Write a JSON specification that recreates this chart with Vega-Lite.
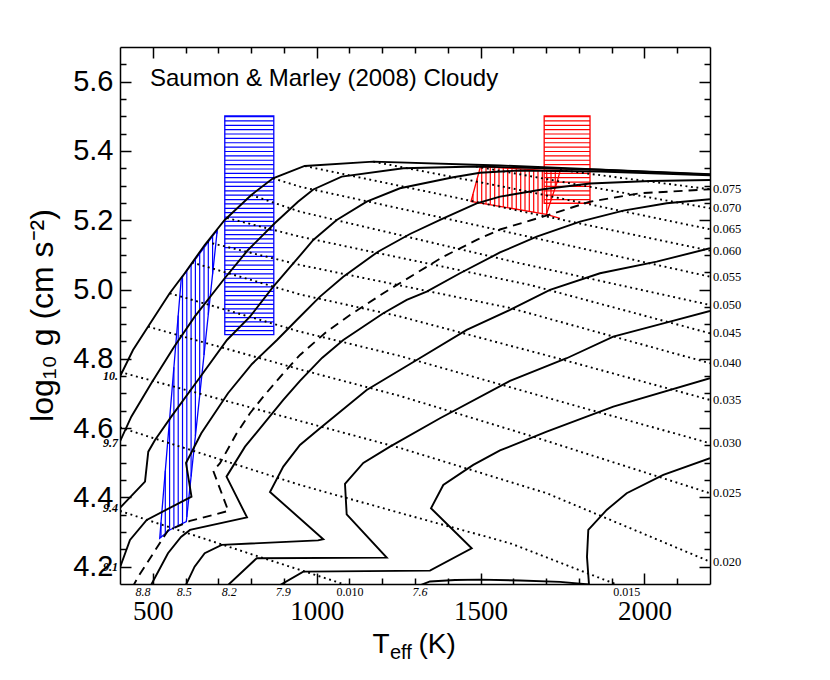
{
  "$schema": "https://vega.github.io/schema/vega-lite/v6.json",
  "width": 590,
  "height": 537,
  "autosize": {"type": "none"},
  "padding": {"left": 120, "top": 47, "right": 120, "bottom": 96},
  "background": "white",
  "config": {
    "view": {"stroke": null},
    "axis": {"grid": false, "domainColor": "black", "tickColor": "black", "labelColor": "black", "titleColor": "black", "domainWidth": 1.5, "tickWidth": 1.5, "labelFlush": false, "labelOverlap": false, "titleFontWeight": "normal"}
  },
  "resolve": {"axis": {"x": "independent", "y": "independent"}},
  "encoding": {
    "x": {"field": "T", "type": "quantitative", "scale": {"domain": [400, 2200], "nice": false, "zero": false}, "axis": null},
    "y": {"field": "g", "type": "quantitative", "scale": {"domain": [4.15, 5.7], "nice": false, "zero": false}, "axis": null}
  },
  "datasets": {
    "iso": [
      {"age":"10.","i":0,"T":400,"g":4.749},{"age":"10.","i":1,"T":439.7,"g":4.8255},{"age":"10.","i":2,"T":485.4,"g":4.8928},{"age":"10.","i":3,"T":551.6,"g":4.9892},{"age":"10.","i":4,"T":597.4,"g":5.0469},{"age":"10.","i":5,"T":658.4,"g":5.1286},{"age":"10.","i":6,"T":719.4,"g":5.2007},{"age":"10.","i":7,"T":800.6,"g":5.2729},{"age":"10.","i":8,"T":866.8,"g":5.3211},{"age":"10.","i":9,"T":963.5,"g":5.3566},{"age":"10.","i":10,"T":1172.8,"g":5.369},{"age":"10.","i":11,"T":1559.3,"g":5.358},{"age":"10.","i":12,"T":2200,"g":5.3326},
      {"age":"9.7","i":0,"T":400,"g":4.5615},{"age":"9.7","i":1,"T":434.5,"g":4.633},{"age":"9.7","i":2,"T":495.5,"g":4.7294},{"age":"9.7","i":3,"T":564.7,"g":4.8342},{"age":"9.7","i":4,"T":627.9,"g":4.9217},{"age":"9.7","i":5,"T":719.4,"g":5.0325},{"age":"9.7","i":6,"T":790.5,"g":5.1141},{"age":"9.7","i":7,"T":872,"g":5.1912},{"age":"9.7","i":8,"T":943,"g":5.2535},{"age":"9.7","i":9,"T":989.7,"g":5.2887},{"age":"9.7","i":10,"T":1076.4,"g":5.3257},{"age":"9.7","i":11,"T":1264.3,"g":5.3499},{"age":"9.7","i":12,"T":1488.2,"g":5.3551},{"age":"9.7","i":13,"T":1864.4,"g":5.3456},{"age":"9.7","i":14,"T":2200,"g":5.3317},
      {"age":"9.4","i":0,"T":400,"g":4.3696},{"age":"9.4","i":1,"T":476.3,"g":4.4455},{"age":"9.4","i":2,"T":486.3,"g":4.532},{"age":"9.4","i":3,"T":506.8,"g":4.5658},{"age":"9.4","i":4,"T":556.5,"g":4.633},{"age":"9.4","i":5,"T":638,"g":4.739},{"age":"9.4","i":6,"T":726.4,"g":4.8544},{"age":"9.4","i":7,"T":796.6,"g":4.9217},{"age":"9.4","i":8,"T":867.7,"g":5.0082},{"age":"9.4","i":9,"T":943,"g":5.0911},{"age":"9.4","i":10,"T":989.7,"g":5.143},{"age":"9.4","i":11,"T":1061.1,"g":5.2007},{"age":"9.4","i":12,"T":1152.6,"g":5.2535},{"age":"9.4","i":13,"T":1254.2,"g":5.2922},{"age":"9.4","i":14,"T":1416.8,"g":5.324},{"age":"9.4","i":15,"T":1498.3,"g":5.3369},{"age":"9.4","i":16,"T":1620.3,"g":5.3436},{"age":"9.4","i":17,"T":1864.4,"g":5.3407},{"age":"9.4","i":18,"T":2200,"g":5.3297},
      {"age":"9.1","i":0,"T":400,"g":4.1978},{"age":"9.1","i":1,"T":430.5,"g":4.2772},{"age":"9.1","i":2,"T":481.5,"g":4.3349},{"age":"9.1","i":3,"T":618.1,"g":4.4022},{"age":"9.1","i":4,"T":601.4,"g":4.4994},{"age":"9.1","i":5,"T":648,"g":4.5851},{"age":"9.1","i":6,"T":729.5,"g":4.7006},{"age":"9.1","i":7,"T":802.7,"g":4.7851},{"age":"9.1","i":8,"T":879,"g":4.8544},{"age":"9.1","i":9,"T":939.1,"g":4.9121},{"age":"9.1","i":10,"T":1010.2,"g":4.9794},{"age":"9.1","i":11,"T":1081.2,"g":5.0371},{"age":"9.1","i":12,"T":1187.1,"g":5.1092},{"age":"9.1","i":13,"T":1284.7,"g":5.1603},{"age":"9.1","i":14,"T":1386.3,"g":5.2056},{"age":"9.1","i":15,"T":1488.2,"g":5.2489},{"age":"9.1","i":16,"T":1559.3,"g":5.268},{"age":"9.1","i":17,"T":1696.6,"g":5.2902},{"age":"9.1","i":18,"T":1833.9,"g":5.3061},{"age":"9.1","i":19,"T":2016.9,"g":5.3133},{"age":"9.1","i":20,"T":2200,"g":5.3162},
      {"age":"8.8","i":0,"T":490,"g":4.1387},{"age":"8.8","i":1,"T":546.4,"g":4.2388},{"age":"8.8","i":2,"T":586.1,"g":4.2859},{"age":"8.8","i":3,"T":613.6,"g":4.3061},{"age":"8.8","i":4,"T":787.5,"g":4.3422},{"age":"8.8","i":5,"T":724.9,"g":4.4599},{"age":"8.8","i":6,"T":781.4,"g":4.5465},{"age":"8.8","i":7,"T":898.2,"g":4.6813},{"age":"8.8","i":8,"T":949.1,"g":4.7361},{"age":"8.8","i":9,"T":1016.3,"g":4.8025},{"age":"8.8","i":10,"T":1081.2,"g":4.8544},{"age":"8.8","i":11,"T":1203.3,"g":4.9315},{"age":"8.8","i":12,"T":1274.7,"g":4.9698},{"age":"8.8","i":13,"T":1335.7,"g":4.9938},{"age":"8.8","i":14,"T":1437.3,"g":5.0469},{"age":"8.8","i":15,"T":1559.3,"g":5.1069},{"age":"8.8","i":16,"T":1671.3,"g":5.1525},{"age":"8.8","i":17,"T":1803.4,"g":5.1958},{"age":"8.8","i":18,"T":1935.5,"g":5.2276},{"age":"8.8","i":19,"T":2067.9,"g":5.2489},{"age":"8.8","i":20,"T":2200,"g":5.2605},
      {"age":"8.5","i":0,"T":596.8,"g":4.1387},{"age":"8.5","i":1,"T":627.6,"g":4.2001},{"age":"8.5","i":2,"T":658.4,"g":4.2388},{"age":"8.5","i":3,"T":710.3,"g":4.2628},{"age":"8.5","i":4,"T":1004.1,"g":4.2758},{"age":"8.5","i":5,"T":1020.2,"g":4.2792},{"age":"8.5","i":6,"T":857.6,"g":4.4157},{"age":"8.5","i":7,"T":898.2,"g":4.4888},{"age":"8.5","i":8,"T":949.1,"g":4.5514},{"age":"8.5","i":9,"T":1010.2,"g":4.5996},{"age":"8.5","i":10,"T":1152.6,"g":4.7101},{"age":"8.5","i":11,"T":1305.2,"g":4.7967},{"age":"8.5","i":12,"T":1457.7,"g":4.8833},{"age":"8.5","i":13,"T":1589.8,"g":4.941},{"age":"8.5","i":14,"T":1711.8,"g":4.9987},{"age":"8.5","i":15,"T":1864.4,"g":5.0469},{"age":"8.5","i":16,"T":2037.3,"g":5.0804},{"age":"8.5","i":17,"T":2200,"g":5.1191},
      {"age":"8.2","i":0,"T":720.3,"g":4.1387},{"age":"8.2","i":1,"T":817,"g":4.2244},{"age":"8.2","i":2,"T":1213.7,"g":4.2261},{"age":"8.2","i":3,"T":1091.6,"g":4.3508},{"age":"8.2","i":4,"T":1086.4,"g":4.4388},{"age":"8.2","i":5,"T":1142.3,"g":4.4994},{"age":"8.2","i":6,"T":1223.7,"g":4.5465},{"age":"8.2","i":7,"T":1376.3,"g":4.6284},{"age":"8.2","i":8,"T":1589.8,"g":4.7361},{"age":"8.2","i":9,"T":1762.8,"g":4.8016},{"age":"8.2","i":10,"T":1904.9,"g":4.8639},{"age":"8.2","i":11,"T":2077.9,"g":4.9072},{"age":"8.2","i":12,"T":2200,"g":4.9381},
      {"age":"7.9","i":0,"T":873.5,"g":4.1387},{"age":"7.9","i":1,"T":959.2,"g":4.1857},{"age":"7.9","i":2,"T":1345.7,"g":4.1886},{"age":"7.9","i":3,"T":1473,"g":4.2533},{"age":"7.9","i":4,"T":1348.8,"g":4.3687},{"age":"7.9","i":5,"T":1386.3,"g":4.4359},{"age":"7.9","i":6,"T":1477.8,"g":4.4937},{"age":"7.9","i":7,"T":1559.3,"g":4.5355},{"age":"7.9","i":8,"T":1701.8,"g":4.5898},{"age":"7.9","i":9,"T":1905,"g":4.6619},{"age":"7.9","i":10,"T":2200,"g":4.7439},
      {"age":"7.6","i":0,"T":1303,"g":4.1416},{"age":"7.6","i":1,"T":1345.7,"g":4.1574},{"age":"7.6","i":2,"T":1422,"g":4.1617},{"age":"7.6","i":3,"T":1498.3,"g":4.1626},{"age":"7.6","i":4,"T":1620.3,"g":4.1603},{"age":"7.6","i":5,"T":1742.4,"g":4.156},{"age":"7.6","i":6,"T":1830.8,"g":4.1488},{"age":"7.6","i":7,"T":1824.7,"g":4.2281},{"age":"7.6","i":8,"T":1828.7,"g":4.3061},{"age":"7.6","i":9,"T":1884.8,"g":4.3638},{"age":"7.6","i":10,"T":1945.8,"g":4.412},{"age":"7.6","i":11,"T":2057.5,"g":4.4648},{"age":"7.6","i":12,"T":2200,"g":4.513}
    ],
    "dashed": [
      {"i":0,"T":436.9,"g":4.1387},{"i":1,"T":455.8,"g":4.1713},{"i":2,"T":501.6,"g":4.2388},{"i":3,"T":546.4,"g":4.3046},{"i":4,"T":613.6,"g":4.332},{"i":5,"T":730.4,"g":4.3609},{"i":6,"T":684.6,"g":4.4763},{"i":7,"T":705.1,"g":4.4986},{"i":8,"T":756,"g":4.5851},{"i":9,"T":796.6,"g":4.6429},{"i":10,"T":837.2,"g":4.6908},{"i":11,"T":898.2,"g":4.7583},{"i":12,"T":949.1,"g":4.8111},{"i":13,"T":1030.6,"g":4.8784},{"i":14,"T":1101.7,"g":4.9266},{"i":15,"T":1203.3,"g":4.9892},{"i":16,"T":1294.8,"g":5.042},{"i":17,"T":1386.3,"g":5.0948},{"i":18,"T":1488.2,"g":5.143},{"i":19,"T":1559.3,"g":5.1733},{"i":20,"T":1690.5,"g":5.2102},{"i":21,"T":1833.9,"g":5.2535},{"i":22,"T":1986.4,"g":5.2778},{"i":23,"T":2200,"g":5.2893}
    ],
    "mass": [
      {"m":"0.010","i":0,"T":400,"g":4.3609},{"m":"0.010","i":1,"T":817,"g":4.231},{"m":"0.010","i":2,"T":949.1,"g":4.1906},{"m":"0.010","i":3,"T":1107.8,"g":4.1416},
      {"m":"0.015","i":0,"T":400,"g":4.6019},{"m":"0.015","i":1,"T":949.1,"g":4.4359},{"m":"0.015","i":2,"T":1254.2,"g":4.3551},{"m":"0.015","i":3,"T":1589.8,"g":4.2677},{"m":"0.015","i":4,"T":1934,"g":4.1416},
      {"m":"0.020","i":0,"T":400,"g":4.762},{"m":"0.020","i":1,"T":949.1,"g":4.6206},{"m":"0.020","i":2,"T":1254.2,"g":4.5427},{"m":"0.020","i":3,"T":1701.8,"g":4.412},{"m":"0.020","i":4,"T":2200,"g":4.2146},
      {"m":"0.025","i":0,"T":485.4,"g":4.8928},{"m":"0.025","i":1,"T":949.1,"g":4.7693},{"m":"0.025","i":2,"T":1254.2,"g":4.6928},{"m":"0.025","i":3,"T":1660.9,"g":4.5753},{"m":"0.025","i":4,"T":2200,"g":4.412},
      {"m":"0.030","i":0,"T":551.6,"g":4.9892},{"m":"0.030","i":1,"T":949.1,"g":4.8784},{"m":"0.030","i":2,"T":1254.2,"g":4.8082},{"m":"0.030","i":3,"T":1762.8,"g":4.6717},{"m":"0.030","i":4,"T":2200,"g":4.5563},
      {"m":"0.035","i":0,"T":619.7,"g":5.0781},{"m":"0.035","i":1,"T":949.1,"g":4.9857},{"m":"0.035","i":2,"T":1254.2,"g":4.9222},{"m":"0.035","i":3,"T":1742.4,"g":4.7996},{"m":"0.035","i":4,"T":2200,"g":4.6812},
      {"m":"0.040","i":0,"T":665.4,"g":5.1372},{"m":"0.040","i":1,"T":949.1,"g":5.0709},{"m":"0.040","i":2,"T":1589.8,"g":4.9468},{"m":"0.040","i":3,"T":2200,"g":4.7872},
      {"m":"0.045","i":0,"T":726.4,"g":5.2065},{"m":"0.045","i":1,"T":949.1,"g":5.1525},{"m":"0.045","i":2,"T":1650.8,"g":5.0131},{"m":"0.045","i":3,"T":2200,"g":4.8737},
      {"m":"0.050","i":0,"T":799.7,"g":5.2729},{"m":"0.050","i":1,"T":949.1,"g":5.2247},{"m":"0.050","i":2,"T":1620.3,"g":5.0758},{"m":"0.050","i":3,"T":2200,"g":4.9554},
      {"m":"0.055","i":0,"T":866.8,"g":5.3211},{"m":"0.055","i":1,"T":949.1,"g":5.2968},{"m":"0.055","i":2,"T":1599.9,"g":5.1623},{"m":"0.055","i":3,"T":2200,"g":5.0371},
      {"m":"0.060","i":0,"T":963.5,"g":5.3566},{"m":"0.060","i":1,"T":1473,"g":5.2556},{"m":"0.060","i":2,"T":2200,"g":5.1121},
      {"m":"0.065","i":0,"T":1172.8,"g":5.369},{"m":"0.065","i":1,"T":1620.3,"g":5.2873},{"m":"0.065","i":2,"T":2200,"g":5.1739},
      {"m":"0.070","i":0,"T":1486.1,"g":5.3551},{"m":"0.070","i":1,"T":2200,"g":5.2345},
      {"m":"0.075","i":0,"T":1742.4,"g":5.345},{"m":"0.075","i":1,"T":2200,"g":5.2893}
    ],
    "hatch": [
      {"set":"A","T":525.1,"g":4.3274,"g2":4.2853},{"set":"A","T":538.2,"g":4.4766,"g2":4.2954},{"set":"A","T":551.3,"g":4.6261,"g2":4.3058},{"set":"A","T":564.4,"g":4.7756,"g2":4.3121},{"set":"A","T":577.6,"g":4.9248,"g2":4.3183},{"set":"A","T":590.7,"g":5.0371,"g2":4.3245},{"set":"A","T":603.8,"g":5.0538,"g2":4.3436},{"set":"A","T":616.9,"g":5.0706,"g2":4.4605},{"set":"A","T":630,"g":5.0873,"g2":4.5771},{"set":"A","T":643.1,"g":5.1038,"g2":4.6939},{"set":"A","T":656.3,"g":5.1205,"g2":4.8108},{"set":"A","T":669.4,"g":5.1372,"g2":4.9274},{"set":"A","T":682.5,"g":5.1537,"g2":5.0443},{"set":"A","T":695.6,"g":5.1704,"g2":5.1612},
      {"set":"B","T":1476.9,"g":5.2755,"g2":5.2532},{"set":"B","T":1490,"g":5.3211,"g2":5.2509},{"set":"B","T":1503.5,"g":5.3548,"g2":5.2489},{"set":"B","T":1516.6,"g":5.3543,"g2":5.2469},{"set":"B","T":1529.7,"g":5.3534,"g2":5.2446},{"set":"B","T":1543.1,"g":5.3525,"g2":5.2426},{"set":"B","T":1556.3,"g":5.3517,"g2":5.2405},{"set":"B","T":1569.4,"g":5.3508,"g2":5.2382},{"set":"B","T":1582.8,"g":5.3502,"g2":5.2362},{"set":"B","T":1595.9,"g":5.3494,"g2":5.2342},{"set":"B","T":1609,"g":5.3485,"g2":5.2319},{"set":"B","T":1622.5,"g":5.3479,"g2":5.2299},{"set":"B","T":1635.6,"g":5.347,"g2":5.2277},{"set":"B","T":1648.7,"g":5.3462,"g2":5.2256},{"set":"B","T":1662.1,"g":5.3456,"g2":5.2236},{"set":"B","T":1675.2,"g":5.3447,"g2":5.2219},{"set":"B","T":1688.4,"g":5.3439,"g2":5.2198},{"set":"B","T":1701.8,"g":5.343,"g2":5.2195},{"set":"B","T":1714.9,"g":5.3422,"g2":5.2576},{"set":"B","T":1728,"g":5.3413,"g2":5.2945}
    ],
    "outline": [
      {"set":"A","i":0,"T":587,"g":5.0325},{"set":"A","i":1,"T":696.8,"g":5.172},{"set":"A","i":2,"T":602.3,"g":4.33},{"set":"A","i":3,"T":551.6,"g":4.306},{"set":"A","i":4,"T":521.1,"g":4.282},{"set":"A","i":5,"T":587,"g":5.0325},
      {"set":"B","i":0,"T":1742.4,"g":5.2056},{"set":"B","i":1,"T":1701.2,"g":5.2172},{"set":"B","i":2,"T":1470.8,"g":5.2541},{"set":"B","i":3,"T":1499.8,"g":5.355},{"set":"B","i":4,"T":1742.4,"g":5.341},{"set":"B","i":5,"T":1732.3,"g":5.3066},{"set":"B","i":6,"T":1711.8,"g":5.2489},{"set":"B","i":7,"T":1701.2,"g":5.2172}
    ]
  },
  "layer": [
    {
      "data": {"values": [{"T": 794.45, "g": 5.501, "g2": 4.870}]},
      "mark": {"type": "rule", "color": "#0000ff", "strokeWidth": 49, "strokeDash": [1.2, 3.17], "strokeCap": "butt"},
      "encoding": {"y2": {"field": "g2"}}
    },
    {
      "data": {"values": [{"T": 1764, "g": 5.501, "g2": 5.249}]},
      "mark": {"type": "rule", "color": "#ff0000", "strokeWidth": 45.8, "strokeDash": [1.2, 3.17], "strokeCap": "butt"},
      "encoding": {"y2": {"field": "g2"}}
    },
    {
      "data": {"name": "hatch"},
      "mark": {"type": "rule", "strokeWidth": 1.2},
      "encoding": {
        "y2": {"field": "g2"},
        "color": {"field": "set", "type": "nominal", "scale": {"domain": ["A", "B"], "range": ["#0000ff", "#ff0000"]}, "legend": null}
      }
    },
    {
      "data": {"name": "outline"},
      "mark": {"type": "line", "strokeWidth": 1.3},
      "encoding": {
        "color": {"field": "set", "type": "nominal", "scale": {"domain": ["A", "B"], "range": ["#0000ff", "#ff0000"]}, "legend": null},
        "order": {"field": "i", "type": "quantitative"}
      }
    },
    {
      "data": {"values": [{"set": "A", "T": 719.7, "T2": 869.2, "g": 5.501, "g2": 4.870}, {"set": "B", "T": 1694.1, "T2": 1833.9, "g": 5.501, "g2": 5.249}]},
      "mark": {"type": "rect", "filled": false, "strokeWidth": 1.3},
      "encoding": {
        "x2": {"field": "T2"},
        "y2": {"field": "g2"},
        "color": {"field": "set", "type": "nominal", "scale": {"domain": ["A", "B"], "range": ["#0000ff", "#ff0000"]}, "legend": null}
      }
    },
    {
      "data": {"name": "mass"},
      "mark": {"type": "line", "color": "black", "strokeWidth": 1.9, "strokeDash": [1.9, 3.6], "clip": true},
      "encoding": {"detail": {"field": "m", "type": "nominal"}, "order": {"field": "i", "type": "quantitative"}}
    },
    {
      "data": {"name": "iso"},
      "mark": {"type": "line", "color": "black", "strokeWidth": 1.9, "clip": true},
      "encoding": {"detail": {"field": "age", "type": "nominal"}, "order": {"field": "i", "type": "quantitative"}}
    },
    {
      "data": {"name": "dashed"},
      "mark": {"type": "line", "color": "black", "strokeWidth": 1.9, "strokeDash": [9, 6], "clip": true},
      "encoding": {"order": {"field": "i", "type": "quantitative"}}
    },
    {
      "data": {"values": [
        {"lab": "0.075", "T": 2200, "g": 5.289}, {"lab": "0.070", "T": 2200, "g": 5.2345}, {"lab": "0.065", "T": 2200, "g": 5.1739}, {"lab": "0.060", "T": 2200, "g": 5.1121}, {"lab": "0.055", "T": 2200, "g": 5.0371}, {"lab": "0.050", "T": 2200, "g": 4.9554}, {"lab": "0.045", "T": 2200, "g": 4.8737}, {"lab": "0.040", "T": 2200, "g": 4.7872}, {"lab": "0.035", "T": 2200, "g": 4.6812}, {"lab": "0.030", "T": 2200, "g": 4.5563}, {"lab": "0.025", "T": 2200, "g": 4.412}, {"lab": "0.020", "T": 2200, "g": 4.2146}
      ]},
      "mark": {"type": "text", "align": "left", "baseline": "middle", "dx": 3, "font": "Liberation Serif", "fontSize": 12.5, "color": "black"},
      "encoding": {"text": {"field": "lab"}}
    },
    {
      "data": {"values": [
        {"lab": "8.8", "T": 470, "g": 4.15}, {"lab": "8.5", "T": 596, "g": 4.15}, {"lab": "8.2", "T": 733, "g": 4.15}, {"lab": "7.9", "T": 898, "g": 4.15}, {"lab": "7.6", "T": 1315, "g": 4.15}
      ]},
      "mark": {"type": "text", "align": "center", "baseline": "alphabetic", "dy": 11.5, "font": "Liberation Serif", "fontStyle": "italic", "fontSize": 12, "color": "black"},
      "encoding": {"text": {"field": "lab"}}
    },
    {
      "data": {"values": [
        {"lab": "0.010", "T": 1102, "g": 4.15}, {"lab": "0.015", "T": 1946, "g": 4.15}
      ]},
      "mark": {"type": "text", "align": "center", "baseline": "alphabetic", "dy": 11.5, "font": "Liberation Serif", "fontSize": 12, "color": "black"},
      "encoding": {"text": {"field": "lab"}}
    },
    {
      "data": {"values": [
        {"lab": "10.", "T": 400, "g": 4.751}, {"lab": "9.7", "T": 400, "g": 4.557}, {"lab": "9.4", "T": 400, "g": 4.3696}, {"lab": "9.1", "T": 400, "g": 4.199}
      ]},
      "mark": {"type": "text", "align": "right", "baseline": "middle", "dx": -2, "font": "Liberation Serif", "fontStyle": "italic", "fontWeight": "bold", "fontSize": 12, "color": "black"},
      "encoding": {"text": {"field": "lab"}}
    },
    {
      "data": {"values": [{"label": "Saumon & Marley (2008) Cloudy", "T": 491.5, "g": 5.588}]},
      "mark": {"type": "text", "align": "left", "baseline": "alphabetic", "font": "Liberation Sans", "fontSize": 24, "color": "black"},
      "encoding": {"text": {"field": "label"}}
    },
    {
      "data": {"values": [{"T": 1000, "g": 5}]},
      "mark": {"type": "point", "opacity": 0},
      "encoding": {
        "x": {"field": "T", "type": "quantitative", "scale": {"domain": [400, 2200], "nice": false, "zero": false},
          "axis": {"orient": "bottom", "values": [500, 1000, 1500, 2000], "format": "d", "ticks": false, "domain": true, "labels": true, "labelFont": "Liberation Serif", "labelFontSize": 27, "labelPadding": 14.7,
            "title": "T", "titleFont": "Liberation Sans", "titleFontSize": 28, "titleX": 252, "titleY": 68.2, "titleAlign": "left", "titleBaseline": "alphabetic", "titleAngle": 0}},
        "y": {"field": "g", "type": "quantitative", "scale": {"domain": [4.15, 5.7], "nice": false, "zero": false},
          "axis": {"orient": "left", "values": [4.2, 4.4, 4.6, 4.8, 5.0, 5.2, 5.4, 5.6], "format": ".1f", "ticks": false, "domain": true, "labels": true, "labelFont": "Liberation Sans", "labelFontSize": 29, "labelPadding": 7,
            "title": "log₁₀ g (cm s⁻²)", "titleFont": "Liberation Sans", "titleFontSize": 32, "titleX": -68, "titleY": 268, "titleAngle": 270, "titleAlign": "center", "titleBaseline": "alphabetic"}}
      }
    },
    {
      "data": {"values": [{"T": 1000, "g": 5}]},
      "mark": {"type": "point", "opacity": 0},
      "encoding": {
        "x": {"field": "T", "type": "quantitative", "scale": {"domain": [400, 2200], "nice": false, "zero": false},
          "axis": {"orient": "bottom", "values": [500, 1000, 1500, 2000], "labels": false, "domain": false, "ticks": true, "tickSize": -11,
            "title": "eff", "titleFont": "Liberation Sans", "titleFontSize": 20, "titleX": 269.5, "titleY": 74, "titleAlign": "left", "titleBaseline": "alphabetic", "titleAngle": 0}},
        "y": {"field": "g", "type": "quantitative", "scale": {"domain": [4.15, 5.7], "nice": false, "zero": false},
          "axis": {"orient": "left", "values": [4.2, 4.4, 4.6, 4.8, 5.0, 5.2, 5.4, 5.6], "labels": false, "domain": false, "ticks": true, "tickSize": -11, "title": null}}
      }
    },
    {
      "data": {"values": [{"T": 1000, "g": 5}]},
      "mark": {"type": "point", "opacity": 0},
      "encoding": {
        "x": {"field": "T", "type": "quantitative", "scale": {"domain": [400, 2200], "nice": false, "zero": false},
          "axis": {"orient": "bottom", "values": [600, 700, 800, 900, 1100, 1200, 1300, 1400, 1600, 1700, 1800, 1900, 2100], "labels": false, "domain": false, "ticks": true, "tickSize": -6,
            "title": "(K)", "titleFont": "Liberation Sans", "titleFontSize": 28, "titleX": 298, "titleY": 68.2, "titleAlign": "left", "titleBaseline": "alphabetic", "titleAngle": 0}},
        "y": {"field": "g", "type": "quantitative", "scale": {"domain": [4.15, 5.7], "nice": false, "zero": false},
          "axis": {"orient": "left", "values": [4.25, 4.3, 4.35, 4.45, 4.5, 4.55, 4.65, 4.7, 4.75, 4.85, 4.9, 4.95, 5.05, 5.1, 5.15, 5.25, 5.3, 5.35, 5.45, 5.5, 5.55, 5.65], "labels": false, "domain": false, "ticks": true, "tickSize": -6, "title": null}}
      }
    },
    {
      "data": {"values": [{"T": 1000, "g": 5}]},
      "mark": {"type": "point", "opacity": 0},
      "encoding": {
        "x": {"field": "T", "type": "quantitative", "scale": {"domain": [400, 2200], "nice": false, "zero": false},
          "axis": {"orient": "top", "values": [500, 1000, 1500, 2000], "labels": false, "domain": true, "ticks": true, "tickSize": -11, "title": null}},
        "y": {"field": "g", "type": "quantitative", "scale": {"domain": [4.15, 5.7], "nice": false, "zero": false},
          "axis": {"orient": "right", "values": [4.2, 4.4, 4.6, 4.8, 5.0, 5.2, 5.4, 5.6], "labels": false, "domain": true, "ticks": true, "tickSize": -11, "title": null}}
      }
    },
    {
      "data": {"values": [{"T": 1000, "g": 5}]},
      "mark": {"type": "point", "opacity": 0},
      "encoding": {
        "x": {"field": "T", "type": "quantitative", "scale": {"domain": [400, 2200], "nice": false, "zero": false},
          "axis": {"orient": "top", "values": [600, 700, 800, 900, 1100, 1200, 1300, 1400, 1600, 1700, 1800, 1900, 2100], "labels": false, "domain": false, "ticks": true, "tickSize": -6, "title": null}},
        "y": {"field": "g", "type": "quantitative", "scale": {"domain": [4.15, 5.7], "nice": false, "zero": false},
          "axis": {"orient": "right", "values": [4.25, 4.3, 4.35, 4.45, 4.5, 4.55, 4.65, 4.7, 4.75, 4.85, 4.9, 4.95, 5.05, 5.1, 5.15, 5.25, 5.3, 5.35, 5.45, 5.5, 5.55, 5.65], "labels": false, "domain": false, "ticks": true, "tickSize": -6, "title": null}}
      }
    }
  ]
}
